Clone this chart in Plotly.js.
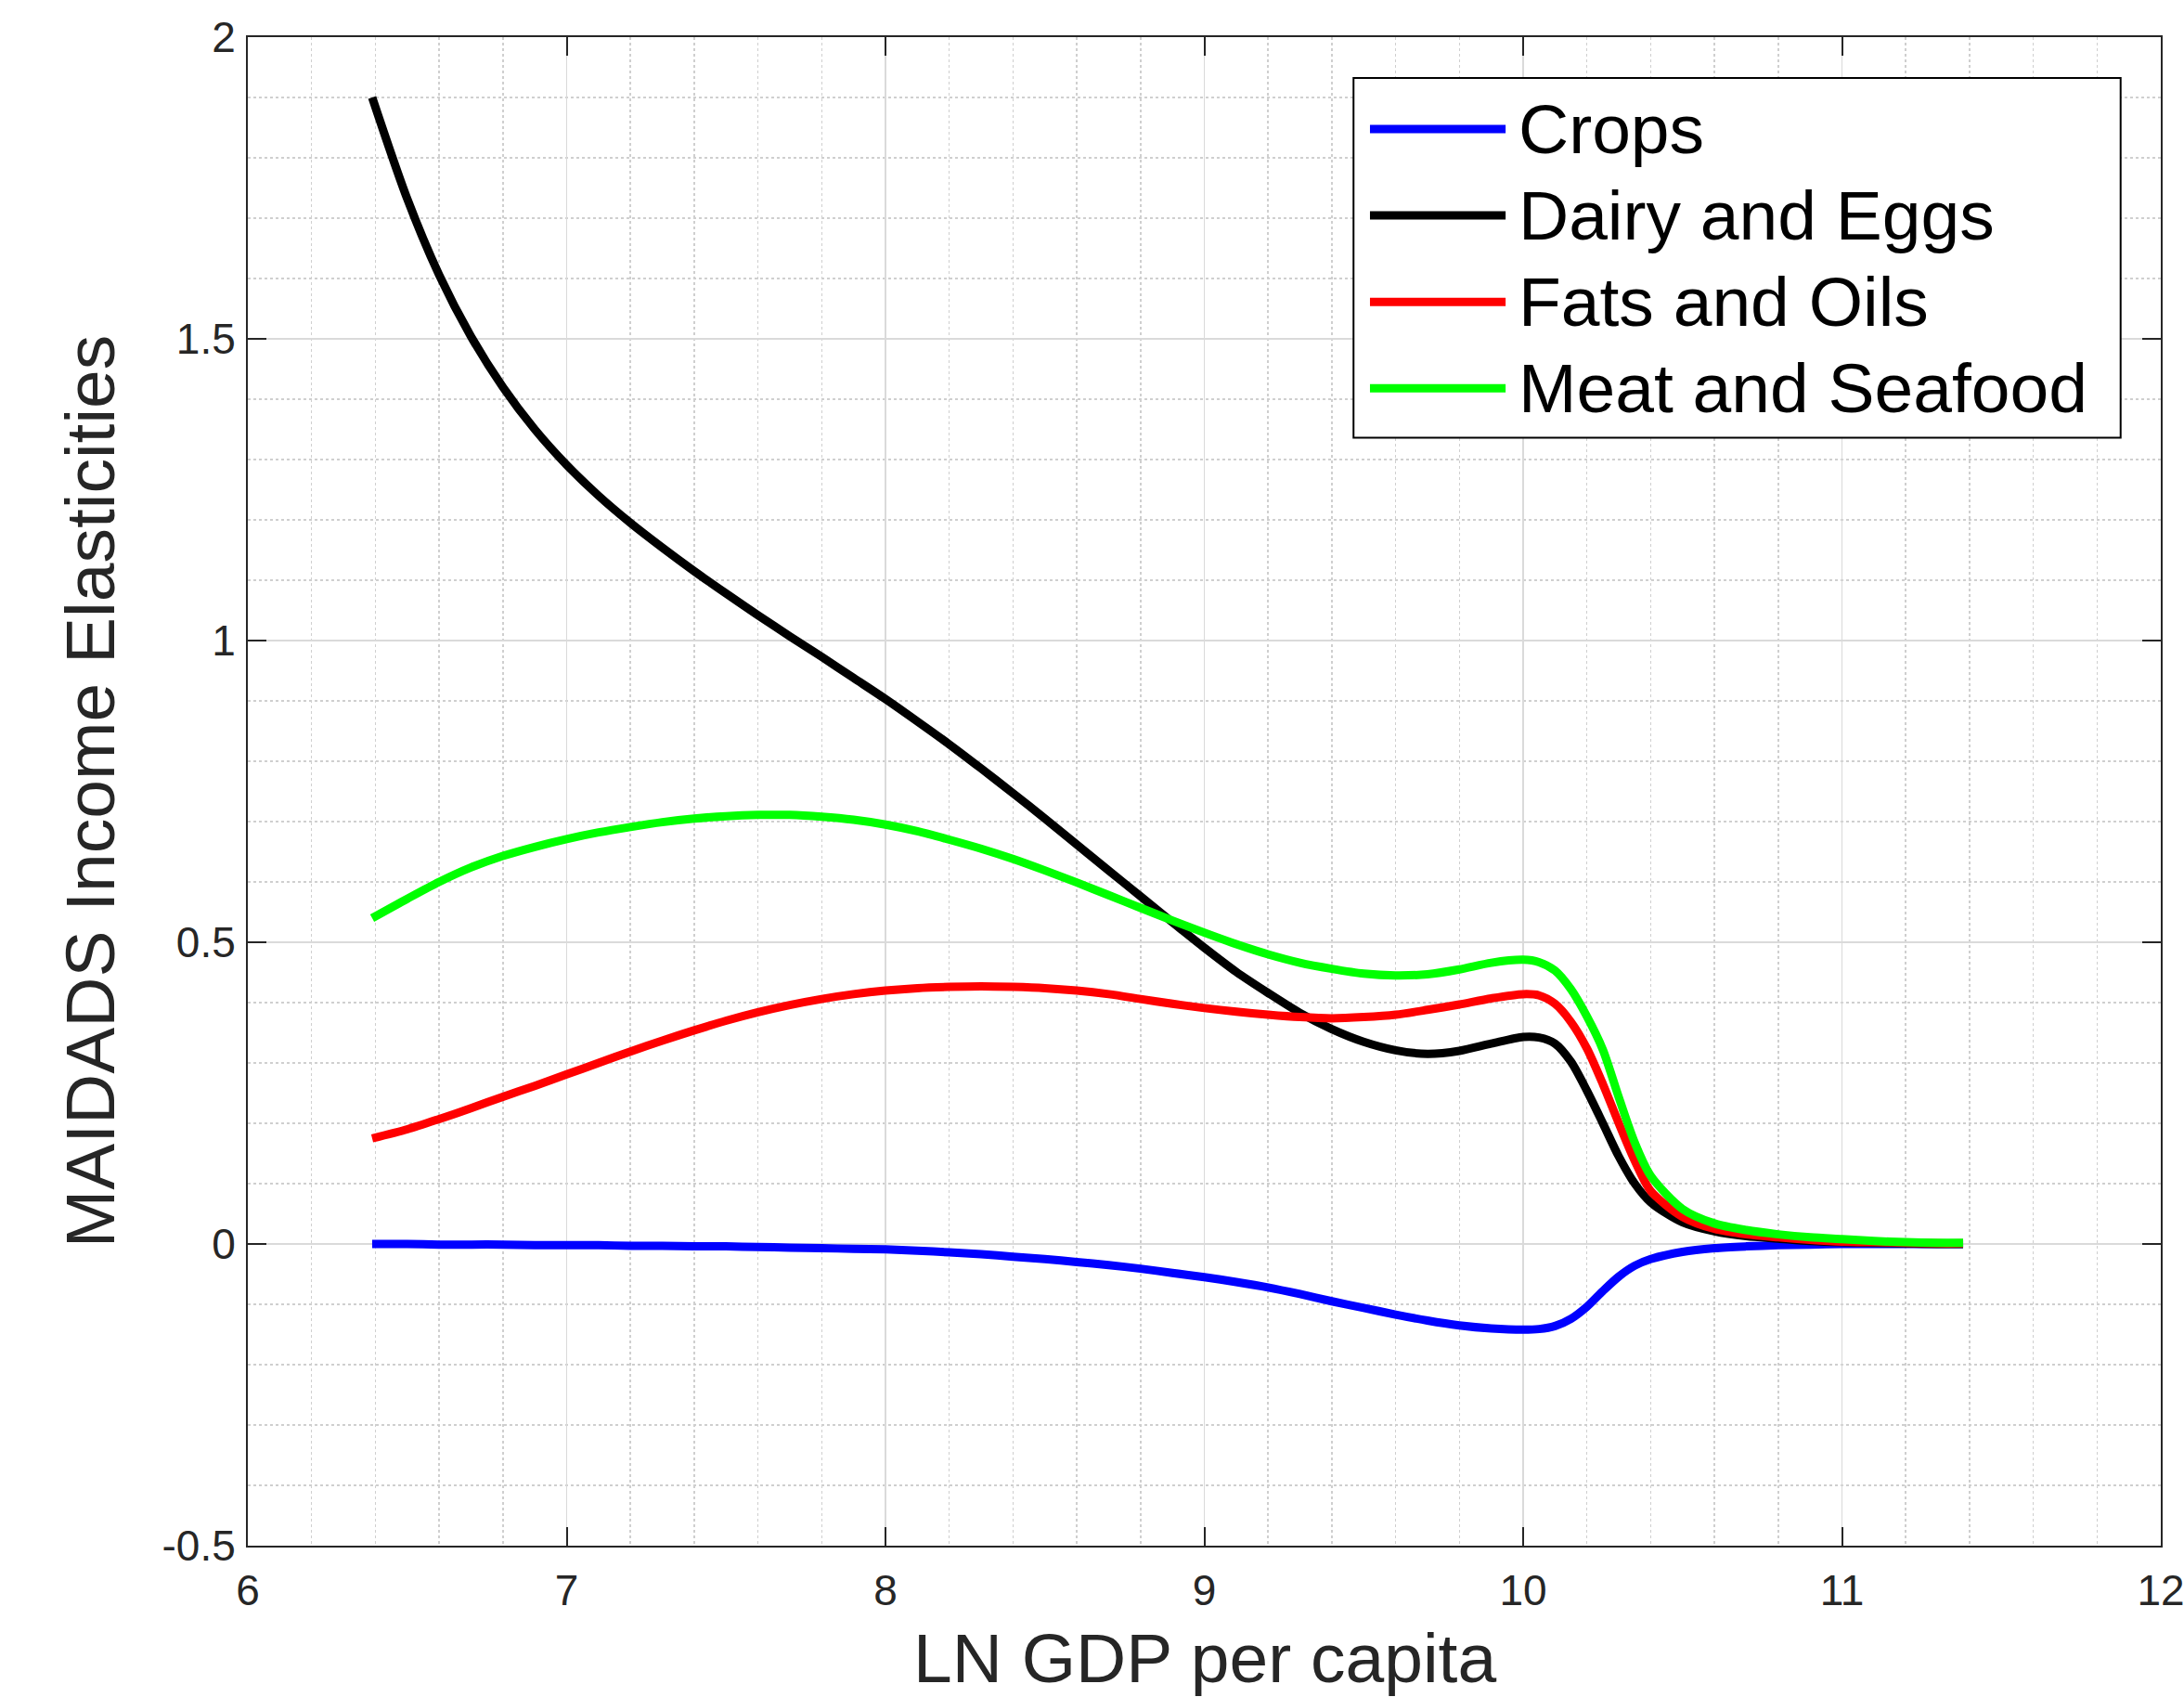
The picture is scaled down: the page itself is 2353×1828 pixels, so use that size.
<!DOCTYPE html>
<html>
<head>
<meta charset="utf-8">
<script src="https://cdn.plot.ly/plotly-3.0.1.min.js"></script>
<style>
  html, body { margin: 0; padding: 0; background: #ffffff; }
  #chart { width: 2353px; height: 1828px; }
</style>
</head>
<body>
<div id="chart"></div>
<script>
// ---- data ----
const lnGdp = [6.39, 6.5, 6.6, 6.7, 6.8, 6.9, 7.0, 7.1, 7.2, 7.3, 7.4, 7.5, 7.6, 7.7, 7.8, 7.9,
  8.0, 8.1, 8.2, 8.3, 8.4, 8.5, 8.6, 8.7, 8.8, 8.9, 9.0, 9.1, 9.2, 9.3, 9.4, 9.5, 9.6, 9.7, 9.8, 9.9,
  10.0, 10.05, 10.1, 10.15, 10.2, 10.25, 10.3, 10.35, 10.4, 10.5, 10.6, 10.7, 10.8, 10.9,
  11.0, 11.1, 11.2, 11.3, 11.38];

const crops = [0.000, 0.000, -0.001, -0.001, -0.001, -0.002, -0.002, -0.002, -0.003, -0.003, -0.004, -0.004,
  -0.005, -0.006, -0.007, -0.008, -0.009, -0.011, -0.014, -0.017, -0.021, -0.025, -0.030, -0.035, -0.041,
  -0.048, -0.055, -0.063, -0.072, -0.083, -0.095, -0.106, -0.117, -0.127, -0.135, -0.140,
  -0.142, -0.141, -0.136, -0.124, -0.104, -0.078, -0.054, -0.036, -0.025, -0.013, -0.007, -0.004, -0.002, -0.001,
  0.000, 0.000, 0.000, 0.000, 0.000];

const dairyEggs = [1.900, 1.732, 1.606, 1.504, 1.420, 1.350, 1.291, 1.240, 1.195, 1.154, 1.115, 1.078,
  1.042, 1.007, 0.973, 0.938, 0.903, 0.866, 0.828, 0.788, 0.747, 0.705, 0.662, 0.619, 0.576, 0.533,
  0.491, 0.451, 0.416, 0.383, 0.356, 0.335, 0.321, 0.315, 0.320, 0.332,
  0.343, 0.342, 0.332, 0.302, 0.254, 0.200, 0.145, 0.100, 0.069, 0.036, 0.021, 0.013, 0.009, 0.005,
  0.003, 0.002, 0.001, 0.000, 0.000];

const fatsOils = [0.175, 0.190, 0.207, 0.225, 0.244, 0.262, 0.281, 0.300, 0.319, 0.337, 0.354, 0.370,
  0.384, 0.396, 0.406, 0.414, 0.420, 0.424, 0.426, 0.427, 0.426, 0.424, 0.420, 0.414, 0.406, 0.398,
  0.391, 0.385, 0.380, 0.376, 0.374, 0.376, 0.380, 0.388, 0.397, 0.407,
  0.414, 0.412, 0.398, 0.368, 0.324, 0.265, 0.200, 0.138, 0.088, 0.045, 0.025, 0.016, 0.011, 0.007,
  0.004, 0.003, 0.002, 0.001, 0.001];

const meatSeafood = [0.540, 0.572, 0.600, 0.624, 0.643, 0.658, 0.671, 0.682, 0.691, 0.699, 0.705, 0.709,
  0.711, 0.711, 0.708, 0.703, 0.695, 0.684, 0.670, 0.655, 0.638, 0.619, 0.599, 0.578, 0.557, 0.536,
  0.516, 0.497, 0.480, 0.466, 0.456, 0.448, 0.445, 0.447, 0.455, 0.466,
  0.471, 0.467, 0.453, 0.422, 0.377, 0.322, 0.243, 0.168, 0.113, 0.058, 0.034, 0.023, 0.016, 0.011,
  0.008, 0.005, 0.003, 0.002, 0.002];

const seriesNames = ['Crops', 'Dairy and Eggs', 'Fats and Oils', 'Meat and Seafood'];
const seriesValues = [crops, dairyEggs, fatsOils, meatSeafood];
const seriesColors = ['#0000ff', '#000000', '#ff0000', '#00ff00'];

const xTickVals = [6, 7, 8, 9, 10, 11, 12];
const xTickText = ['6', '7', '8', '9', '10', '11', '12'];
const yTickVals = [-0.5, 0, 0.5, 1, 1.5, 2];
const yTickText = ['-0.5', '0', '0.5', '1', '1.5', '2'];

const xTitle = 'LN GDP per capita';
const yTitle = 'MAIDADS Income Elasticities';

// ---- build ----
const FONT = 'Liberation Sans, Arial, Helvetica, sans-serif';
const AXIS = '#262626';

const traces = seriesNames.map((name, i) => ({
  type: 'scatter',
  mode: 'lines',
  name: name,
  x: lnGdp,
  y: seriesValues[i],
  line: { color: seriesColors[i], width: 9, shape: 'spline', smoothing: 0.8 },
  showlegend: false,
  hoverinfo: 'x+y+name'
}));

// custom legend (box, line samples, labels) in paper coordinates
const legBox = { x0: 0.578, x1: 0.979, y0: 0.7345, y1: 0.973 };
const legRowY = [0.9391, 0.8818, 0.8245, 0.7672];
const shapes = [{
  type: 'rect', xref: 'paper', yref: 'paper',
  x0: legBox.x0, x1: legBox.x1, y0: legBox.y0, y1: legBox.y1,
  line: { color: '#000000', width: 2 }, fillcolor: '#ffffff', layer: 'above'
}];
const annotations = [];
seriesNames.forEach((name, i) => {
  shapes.push({
    type: 'line', xref: 'paper', yref: 'paper',
    x0: 0.5866, x1: 0.6575, y0: legRowY[i], y1: legRowY[i],
    line: { color: seriesColors[i], width: 9 }, layer: 'above'
  });
  annotations.push({
    xref: 'paper', yref: 'paper', x: 0.6633, y: legRowY[i],
    xanchor: 'left', yanchor: 'middle', yshift: 0,
    text: name, showarrow: false,
    font: { family: FONT, size: 75, color: '#000000' }
  });
});

// x-axis title (placed as paper text so it can sit as low as in the reference)
annotations.push({
  xref: 'paper', yref: 'paper', x: 0.5, y: -0.0742,
  xanchor: 'center', yanchor: 'middle',
  text: xTitle, showarrow: false,
  font: { family: FONT, size: 75, color: AXIS }
});

const layout = {
  width: 2353,
  height: 1828,
  paper_bgcolor: '#ffffff',
  plot_bgcolor: '#ffffff',
  margin: { l: 267, r: 25, t: 40, b: 163, pad: 0 },
  font: { family: FONT, color: AXIS },
  showlegend: false,
  xaxis: {
    range: [6, 12],
    tickmode: 'array', tickvals: xTickVals, ticktext: xTickText,
    ticks: 'inside', ticklen: 20, tickwidth: 2, tickcolor: AXIS,
    ticklabelstandoff: 7,
    ticklabeloverflow: 'allow',
    tickfont: { family: FONT, size: 46, color: AXIS },
    showline: true, linecolor: AXIS, linewidth: 2, mirror: 'ticks',
    showgrid: true, gridcolor: '#dadada', gridwidth: 1.5,
    zeroline: false,
    minor: { dtick: 0.2, tick0: 6, showgrid: true, gridcolor: '#cfcfcf', gridwidth: 1.5, griddash: 'dot', ticks: '' }
  },
  yaxis: {
    range: [-0.5, 2],
    tickmode: 'array', tickvals: yTickVals, ticktext: yTickText,
    ticks: 'inside', ticklen: 20, tickwidth: 2, tickcolor: AXIS,
    ticklabelstandoff: 2,
    ticklabeloverflow: 'allow',
    tickfont: { family: FONT, size: 46, color: AXIS },
    showline: true, linecolor: AXIS, linewidth: 2, mirror: 'ticks',
    showgrid: true, gridcolor: '#dadada', gridwidth: 1.5,
    zeroline: false,
    minor: { dtick: 0.1, tick0: 0, showgrid: true, gridcolor: '#cfcfcf', gridwidth: 1.5, griddash: 'dot', ticks: '' },
    title: { text: yTitle, font: { family: FONT, size: 75, color: AXIS }, standoff: 26 }
  },
  shapes: shapes,
  annotations: annotations
};

Plotly.newPlot('chart', traces, layout, { staticPlot: true, displayModeBar: false });
</script>
</body>
</html>
